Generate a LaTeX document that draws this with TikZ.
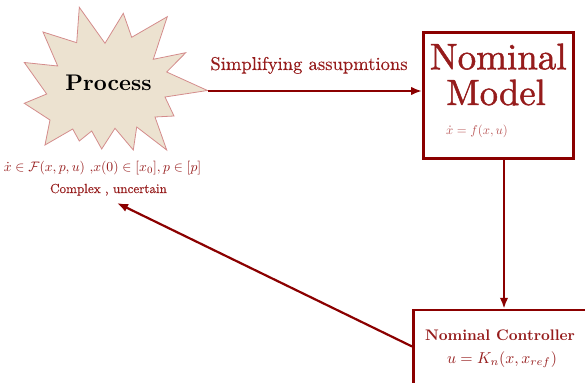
\RequirePackage{fix-cm}
\documentclass[tikz,border=0pt]{standalone}
\usepackage{fontspec}
\newfontfamily\heavy{lmroman10-regular.otf}[FakeBold=1.3]
\newfontfamily\semiheavy{lmroman10-regular.otf}[FakeBold=0.4]
\usetikzlibrary{arrows.meta}
\definecolor{dred}{RGB}{139,0,0}
\definecolor{tred}{RGB}{150,28,28}
\definecolor{lred}{RGB}{185,85,85}
\definecolor{burstfill}{RGB}{236,226,208}
\definecolor{burstline}{RGB}{212,140,140}
\begin{document}
\begin{tikzpicture}[x=1pt,y=-1pt,
  arr/.style={draw=dred,line width=2.2pt,-{Latex[length=11pt,width=8.5pt]}},
  boxnode/.style={draw=dred,line width=2.4pt,fill=white,inner sep=0pt},
  txt/.style={text=tred,inner sep=0pt,anchor=base}]
\useasboundingbox (0,0) rectangle (585,382);
\clip (0,0) rectangle (585,382);
% process starburst
\draw[fill=burstfill,draw=burstline,line width=0.8pt,line join=miter]
  (24.3,62.5) -- (57.7,66) -- (43,32) -- (76.7,42.7) -- (79.3,7.3) -- (105,43.3)
  -- (123.3,13.3) -- (131.7,37.3) -- (167.3,16.7) -- (153.3,59.3) -- (185.7,52.7)
  -- (166.7,72) -- (207.5,90.5) -- (165,97) -- (174,116) -- (155,117) -- (166.7,150)
  -- (136.7,127) -- (133.3,150) -- (115,128.3) -- (101.7,149) -- (91.7,131)
  -- (79.3,141) -- (72.7,129) -- (45,145) -- (50,120) -- (24.3,103.3) -- (46.7,94) -- cycle;
\coordinate (ptip) at (207.5,91);
\node[anchor=base,inner sep=0pt] (proc) at (108.5,90.7) {\scalebox{2.26}{\bfseries Process}};
\node[txt] (pmath) at (102.5,171.5)
  {\scalebox{1.37}{$\dot{x}\in\mathcal{F}(x,p,u)$ ,$x(0)\in[x_0],p\in[p]$}};
\node[txt] (pdesc) at (108.5,193) {\scalebox{1.31}{\semiheavy Complex , uncertain}};
% nominal model
\node[boxnode,minimum width=150,minimum height=125.6] (model) at (498.3,95.5) {};
\node[txt] (nom) at (498.3,69.3) {\scalebox{3.7}{\heavy Nominal}};
\node[txt] (mod) at (496,105) {\scalebox{3.66}{\heavy Model}};
\node[txt,text=lred] (fxu) at (477,135) {\scalebox{1.27}{$\dot{x}=f(x,u)$}};
% simplifying arrow
\draw[arr] (ptip) -- (ptip -| model.west);
\node[txt] (simp) at (309,70) {\scalebox{1.86}{\semiheavy Simplifying assupmtions}};
% controller
\node[boxnode,minimum width=200,minimum height=100] (ctrl) at (513.3,360) {};
\node[txt] (cname) at (500,340.7) {\scalebox{1.53}{\bfseries Nominal Controller}};
\node[txt] (claw) at (502,363) {\scalebox{1.58}{$u=K_n(x,x_{ref})$}};
% model -> controller
\coordinate (ds) at ([xshift=5.7pt]model.south);
\draw[arr] (ds) -- (ds |- ctrl.north);
% controller -> process
\coordinate (cs) at ([yshift=13.5pt]ctrl.west);
\coordinate (fb) at (117,203);
\draw[arr] (cs) -- (fb);
\end{tikzpicture}
\end{document}
